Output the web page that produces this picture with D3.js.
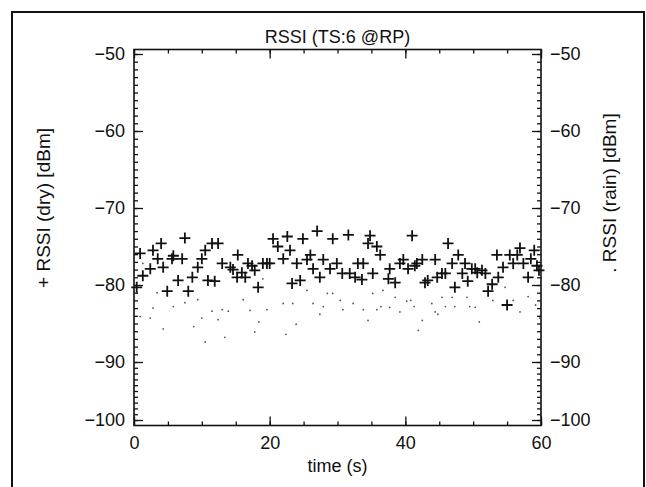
<!DOCTYPE html>
<html>
<head>
<meta charset="utf-8">
<script src="https://cdn.jsdelivr.net/npm/d3@7"></script>
<style>
    html, body { margin: 0; padding: 0; background: #fff; }
    svg text { font-family: "Liberation Sans", Arial, sans-serif; fill: #111; }
</style>
</head>
<body>
<svg id="chart" width="646" height="487"></svg>
<script>
'use strict';

// dry run: time (s) and RSSI (dBm), drawn as "+"
var dryTime = [0.4, 0.9, 1.3, 2.4, 2.8, 3.5, 4.0, 4.3, 4.9, 5.6, 5.8, 6.5, 7.1, 7.5, 8.0, 8.6, 9.4, 10.0,
    10.5, 10.9, 11.5, 11.9, 12.4, 13.0, 14.2, 14.6, 15.2, 15.3, 15.9, 16.4, 16.8, 17.4, 17.8, 18.3, 19.0,
    19.6, 20.0, 20.5, 21.2, 22.0, 22.6, 23.0, 23.3, 24.0, 24.5, 24.9, 25.5, 26.0, 26.4, 27.0, 27.4, 27.9,
    28.9, 29.3, 29.9, 30.7, 31.6, 31.8, 32.6, 33.0, 33.6, 33.8, 34.5, 34.8, 35.2, 35.8, 36.3, 37.5, 37.7,
    38.5, 39.2, 39.7, 40.4, 41.0, 41.4, 41.7, 42.5, 42.9, 43.3, 44.4, 44.7, 45.4, 45.9, 46.3, 46.9, 47.3,
    47.8, 48.4, 48.8, 49.2, 49.8, 50.3, 50.6, 51.3, 51.8, 52.2, 52.8, 53.5, 53.7, 54.4, 55.0, 55.4, 55.9,
    56.5, 56.9, 57.4, 58.1, 58.5, 59.0, 59.4, 59.7];
var dryRssi = [-80.3, -75.9, -78.8, -77.9, -75.5, -76.6, -74.6, -77.7, -80.8, -76.6, -76.2, -79.4, -76.6,
    -73.9, -80.8, -79.0, -77.7, -76.6, -75.5, -79.4, -74.6, -79.5, -74.6, -77.2, -77.7, -78.0, -79.0,
    -76.1, -78.4, -79.0, -77.2, -77.5, -78.1, -80.3, -77.2, -77.2, -77.2, -74.0, -75.0, -76.6, -73.7,
    -75.5, -79.8, -77.2, -79.4, -74.0, -76.7, -76.1, -77.9, -73.0, -79.0, -76.7, -77.9, -74.0, -77.2,
    -78.5, -73.5, -78.5, -79.0, -77.2, -79.3, -77.2, -74.6, -73.6, -78.5, -75.0, -76.1, -79.2, -77.9,
    -79.7, -77.2, -76.7, -77.9, -73.6, -77.5, -77.2, -76.7, -79.7, -79.4, -76.7, -79.0, -78.5, -78.5,
    -74.6, -77.2, -80.3, -76.1, -78.5, -77.2, -79.5, -77.9, -77.9, -78.4, -78.1, -78.5, -80.8, -79.9,
    -76.1, -79.0, -77.7, -82.6, -76.1, -77.2, -76.1, -75.2, -77.2, -79.0, -76.6, -75.5, -77.5, -78.1];

// rain run: time (s) and RSSI (dBm), drawn as dots
var rainTime = [0.9, 1.3, 2.4, 2.8, 3.4, 4.3, 5.8, 7.5, 8.8, 9.4, 10.0, 10.5, 11.5, 12.4, 13.0, 13.4,
    13.9, 16.1, 17.1, 17.8, 18.4, 19.0, 19.6, 22.0, 22.4, 23.4, 23.9, 25.5, 26.4, 27.4, 27.9, 28.5, 29.3,
    30.4, 30.8, 32.3, 33.8, 34.5, 35.2, 35.8, 36.4, 36.7, 37.7, 38.5, 39.2, 40.2, 40.8, 41.3, 41.9, 42.5,
    43.9, 44.4, 44.8, 45.4, 45.9, 46.9, 47.3, 49.1, 49.5, 50.3, 50.9, 52.9, 54.7, 55.9, 56.9, 58.1, 59.2,
    59.8];
var rainRssi = [-84.1, -77.2, -84.3, -83.0, -81.0, -85.7, -82.8, -82.3, -85.4, -81.9, -84.3, -87.4, -83.4,
    -84.5, -83.2, -86.8, -83.4, -81.9, -83.3, -86.1, -84.8, -79.2, -83.2, -82.4, -86.4, -82.4, -85.1,
    -80.7, -82.4, -83.8, -82.8, -81.1, -81.1, -82.0, -83.2, -82.4, -83.2, -84.6, -81.1, -83.2, -82.8,
    -80.7, -82.9, -81.6, -83.5, -82.1, -82.0, -82.8, -85.9, -84.6, -82.4, -83.5, -83.8, -81.6, -82.8,
    -81.6, -82.8, -81.6, -82.8, -82.9, -84.8, -82.0, -80.3, -82.0, -83.5, -81.5, -82.6, -84.3];

var xMajor = [0, 20, 40, 60];
var xMinor = d3.range(0, 61, 5);
var yMajor = [-100, -90, -80, -70, -60, -50];
var yMinor = d3.range(-100, -49, 1);

(function () {
    var plotLeft = 134, plotRight = 541, plotTop = 49.5, plotBottom = 425.5,
        svg = d3.select('#chart'),
        x = d3.scaleLinear().domain([0, 60]).range([plotLeft, plotRight]),
        // the scanned axis is squeezed below -90, so the scale follows the printed ticks
        y = d3.scaleLinear().domain([-100, -90, -50]).range([420, 362, 54]),
        fmt = function (d) { return d < 0 ? '\u2212' + Math.abs(d) : String(d); };

    // outer scan frame
    svg.append('path')
        .attr('d', 'M12,500 L12,12 L644,12 L644,500')
        .attr('fill', 'none')
        .attr('stroke', '#111')
        .attr('stroke-width', 2);

    function addAxis(axis, tx, ty, size, values, labels) {
        var g = svg.append('g')
            .attr('transform', 'translate(' + tx + ',' + ty + ')')
            .call(axis.tickValues(values).tickSize(size).tickSizeOuter(0).tickPadding(9)
                .tickFormat(labels ? fmt : ''));
        g.select('.domain').remove();
        g.selectAll('line').attr('stroke', '#111').attr('stroke-width', 1.3);
        g.selectAll('text').attr('font-size', 18).attr('fill', '#111');
        return g;
    }

    // inward ticks on all four sides
    addAxis(d3.axisBottom(x), 0, plotBottom, -4, xMinor, false);
    addAxis(d3.axisBottom(x), 0, plotBottom, -9, xMajor, true).selectAll('text').attr('dy', '0.8em');
    addAxis(d3.axisTop(x), 0, plotTop, -4, xMinor, false);
    addAxis(d3.axisTop(x), 0, plotTop, -9, xMajor, false);
    addAxis(d3.axisLeft(y), plotLeft, 0, -4, yMinor, false);
    addAxis(d3.axisLeft(y), plotLeft, 0, -9, yMajor, true);
    addAxis(d3.axisRight(y), plotRight, 0, -4, yMinor, false);
    addAxis(d3.axisRight(y), plotRight, 0, -9, yMajor, true);

    svg.append('rect')
        .attr('x', plotLeft).attr('y', plotTop)
        .attr('width', plotRight - plotLeft).attr('height', plotBottom - plotTop)
        .attr('fill', 'none').attr('stroke', '#111').attr('stroke-width', 1.6);

    // rain dots
    svg.append('g').selectAll('circle')
        .data(d3.range(rainTime.length))
        .enter()
        .append('circle')
        .attr('cx', function (i) { return x(rainTime[i]); })
        .attr('cy', function (i) { return y(rainRssi[i]); })
        .attr('r', 0.9)
        .attr('fill', '#555');

    // dry crosses
    svg.append('g').selectAll('path')
        .data(d3.range(dryTime.length))
        .enter()
        .append('path')
        .attr('d', function (i) {
            var cx = x(dryTime[i]), cy = y(dryRssi[i]), a = 5.5;
            return 'M' + (cx - a) + ',' + cy + 'H' + (cx + a) + 'M' + cx + ',' + (cy - a) + 'V' + (cy + a);
        })
        .attr('stroke', '#111')
        .attr('stroke-width', 1.8);

    // titles
    svg.append('text')
        .attr('x', (plotLeft + plotRight) / 2).attr('y', 43)
        .attr('text-anchor', 'middle').attr('font-size', 18)
        .text('RSSI (TS:6 @RP)');

    svg.append('text')
        .attr('x', (plotLeft + plotRight) / 2).attr('y', 472)
        .attr('text-anchor', 'middle').attr('font-size', 18)
        .text('time (s)');

    svg.append('text')
        .attr('transform', 'translate(50,208) rotate(-90)')
        .attr('text-anchor', 'middle').attr('font-size', 19)
        .text('+ RSSI (dry) [dBm]');

    svg.append('text')
        .attr('transform', 'translate(616,193) rotate(-90)')
        .attr('text-anchor', 'middle').attr('font-size', 19)
        .text('. RSSI (rain) [dBm]');
})();
</script>
</body>
</html>
